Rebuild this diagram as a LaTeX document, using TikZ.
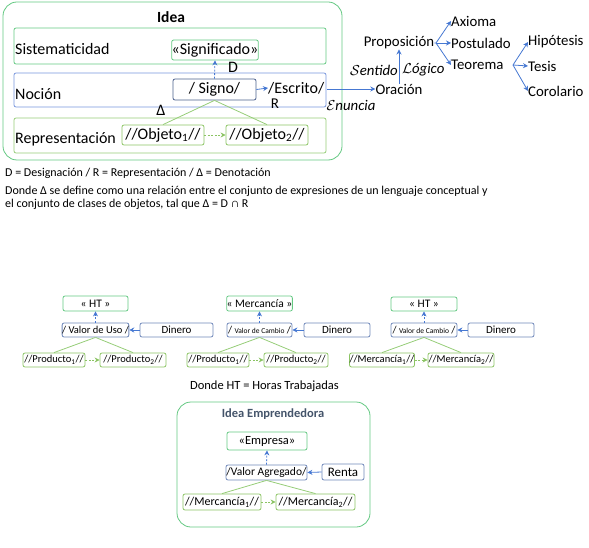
\documentclass[tikz,border=0pt]{standalone}
\usepackage{fontspec}
\setmainfont{Carlito}
\usetikzlibrary{arrows.meta}
\definecolor{gA}{RGB}{100,200,130}
\definecolor{gB}{RGB}{140,196,100}
\definecolor{gL}{RGB}{150,205,120}
\definecolor{bA}{RGB}{120,150,220}
\definecolor{bD}{RGB}{75,95,140}
\definecolor{bV}{RGB}{110,135,185}
\definecolor{arr}{RGB}{70,120,210}
\definecolor{ttl}{RGB}{68,84,106}
\newcommand{\fs}[1]{\fontsize{#1}{#1}\selectfont}
\begin{document}
\begin{tikzpicture}[x=1pt,y=-1pt,
  bx/.style={draw, rounded corners=2pt, inner sep=0pt, line width=0.8pt},
  gbox/.style={bx, draw=gA},
  obox/.style={bx, draw=gB},
  bbox/.style={bx, draw=bA},
  dbox/.style={bx, draw=bD},
  vbox/.style={bx, draw=bV},
  big/.style={rounded corners=14pt, draw=gA, line width=0.8pt, inner sep=0pt},
  lbl/.style={inner sep=0pt},
  barr/.style={draw=arr, line width=0.8pt, -{Stealth[length=5pt,width=5pt]}},
  bdarr/.style={barr, dashed, dash pattern=on 2pt off 1.5pt},
  garr/.style={draw=gB, line width=0.8pt, dashed, dash pattern=on 2pt off 1.5pt, -{Stealth[length=5pt,width=5pt]}},
  gline/.style={draw=gL, line width=0.8pt},
  fT/.style={font=\fs{16}},
  fR/.style={font=\fs{14.8}},
  fS/.style={font=\fs{12}},
  fB/.style={font=\fs{10.5}},
  fC/.style={font=\fs{12.5}}
]
\useasboundingbox (0,0) rectangle (589,548);

% ===== Top: Idea =====
\node[big, minimum width=339pt, minimum height=158pt] (idea) at (172.5,81) {};
\node[lbl, font=\bfseries\fs{15.5}] (ideat) at (171,17) {Idea};

\node[gbox, minimum width=312pt, minimum height=36pt] (sist) at (170,46) {};
\node[lbl, fT, anchor=west] (sistt) at (15,49) {Sistematicidad};
\node[gbox, fT, minimum width=84pt, minimum height=20pt] (signif) at (215,50) {«Significado»};

\node[bbox, minimum width=312pt, minimum height=34pt] (noc) at (170,90) {};
\node[lbl, fT, anchor=west] (noct) at (15,94) {Noción};
\node[dbox, fT, minimum width=83pt, minimum height=21pt] (signo) at (214.5,89.5) {/ Signo/};
\node[lbl, fT] (dl) at (233,67) {D};
\node[lbl, fT, anchor=west] (escrito) at (268,88) {/Escrito/};
\node[lbl, font=\fs{15}] (rl) at (275,104) {R};
\node[lbl, fT] (delta) at (161,110) {Δ};

\node[obox, draw=gL, minimum width=312pt, minimum height=35pt] (repr) at (170,135.5) {};
\node[lbl, fT, anchor=west] (reprt) at (15,139) {Representación};
\node[obox, fT, minimum width=82pt, minimum height=20pt] (obj1) at (163,135) {//Objeto\textsubscript{1}//};
\node[obox, fT, minimum width=82pt, minimum height=20pt] (obj2) at (267,135) {//Objeto\textsubscript{2}//};

\draw[bdarr] (signo.north) -- (signif.south);
\draw[barr] (signo.east) -- (escrito.west);
\draw[gline] (signo.south) -- (obj1.north);
\draw[gline] (signo.south) -- (obj2.north);
\draw[garr] (obj1.east) -- (obj2.west);

% ===== Top right =====
\node[lbl, fR] (orac) at (399,89) {Oración};
\node[lbl, font=\itshape\fs{14.8}] (enun) at (351,105) {$\mathcal{E}$nuncia};
\node[lbl, fR] (prop) at (399,43) {Proposición};
\node[lbl, font=\itshape\fs{14.8}, anchor=east] (sent) at (398,70) {$\mathcal{S}$entido};
\node[lbl, font=\itshape\fs{14.8}, anchor=west] (logi) at (402,70) {$\mathcal{L}$ógico};
\node[lbl, fR, anchor=west] (axi) at (451,21) {Axioma};
\node[lbl, fR, anchor=west] (post) at (451,43) {Postulado};
\node[lbl, fR, anchor=west] (teo) at (451,65) {Teorema};
\node[lbl, fR, anchor=west] (hip) at (528,42) {Hipótesis};
\node[lbl, fR, anchor=west] (tes) at (528,66) {Tesis};
\node[lbl, fR, anchor=west] (cor) at (528,91) {Corolario};
\coordinate (bp1) at (436,43);
\coordinate (bp2) at (513,65);

\draw[barr] (escrito.east) ++(3,1) -- (orac.west);
\draw[barr] (orac.north) -- (prop.south);
\draw[barr] (prop.east) -- (bp1) -- (axi.west);
\draw[barr] (bp1) -- (post.west);
\draw[barr] (bp1) -- (teo.west);
\draw[barr] (bp2) -- (hip.west);
\draw[barr] (bp2) -- (tes.west);
\draw[barr] (bp2) -- (cor.west);

% ===== Text =====
\node[lbl, fS, anchor=west] (t1) at (5,173) {D = Designación / R = Representación / Δ = Denotación};
\node[lbl, fS, anchor=west] (t2) at (5,191) {Donde Δ se define como una relación entre el conjunto de expresiones de un lenguaje conceptual y};
\node[lbl, fS, anchor=west] (t3) at (5,204) {el conjunto de clases de objetos, tal que Δ = D ∩ R};

% ===== Bottom row 1 =====
\node[gbox, font=\fs{11.5}, minimum width=65pt, minimum height=15pt] (ht1) at (95.5,303.5) {« HT »};
\node[vbox, fB, minimum width=65pt, minimum height=14pt] (vu) at (95.5,330) {/ Valor de Uso /};
\node[vbox, font=\fs{11}, minimum width=73pt, minimum height=14pt] (din1) at (176.5,330) {Dinero};
\node[obox, fB, minimum width=62pt, minimum height=14pt] (p1) at (54,360) {//Producto\textsubscript{1}//};
\node[obox, fB, minimum width=66pt, minimum height=14pt] (p2) at (133,360) {//Producto\textsubscript{2}//};
\draw[bdarr] (vu.north) -- (ht1.south);
\draw[barr] (din1.west) -- (vu.east);
\draw[gline] (vu.south) -- (p1.north);
\draw[gline] (vu.south) -- (p2.north);
\draw[garr] (p1.east) -- (p2.west);

% ===== Bottom row 2 =====
\node[gbox, font=\fs{11.5}, minimum width=65pt, minimum height=15pt] (merc) at (259.5,303.5) {« Mercancía »};
\node[vbox, fB, minimum width=65pt, minimum height=14pt] (vc1) at (259.5,330) {/ {\fs{7.5}Valor de Cambio} /};
\node[vbox, font=\fs{11}, minimum width=66pt, minimum height=14pt] (din2) at (337,330) {Dinero};
\node[obox, fB, minimum width=62pt, minimum height=14pt] (p3) at (218,360) {//Producto\textsubscript{1}//};
\node[obox, fB, minimum width=64pt, minimum height=14pt] (p4) at (296,360) {//Producto\textsubscript{2}//};
\draw[bdarr] (vc1.north) -- (merc.south);
\draw[barr] (din2.west) -- (vc1.east);
\draw[gline] (vc1.south) -- (p3.north);
\draw[gline] (vc1.south) -- (p4.north);
\draw[garr] (p3.east) -- (p4.west);

% ===== Bottom row 3 =====
\node[gbox, font=\fs{11.5}, minimum width=66pt, minimum height=14pt] (ht2) at (424,304) {« HT »};
\node[vbox, fB, minimum width=66pt, minimum height=14pt] (vc2) at (424,330) {/ {\fs{7.5}Valor de Cambio} /};
\node[vbox, font=\fs{11}, minimum width=66pt, minimum height=14pt] (din3) at (501,330) {Dinero};
\node[obox, fB, minimum width=62pt, minimum height=14pt] (m1) at (382,360) {//Mercancía\textsubscript{1}//};
\node[obox, fB, minimum width=66pt, minimum height=14pt] (m2) at (461,360) {//Mercancía\textsubscript{2}//};
\draw[bdarr] (vc2.north) -- (ht2.south);
\draw[barr] (din3.west) -- (vc2.east);
\draw[gline] (vc2.south) -- (m1.north);
\draw[gline] (vc2.south) -- (m2.north);
\draw[garr] (m1.east) -- (m2.west);

\node[lbl, font=\fs{12.5}] (htdef) at (264.5,386) {Donde HT = Horas Trabajadas};

% ===== Bottom center: Idea Emprendedora =====
\node[big, minimum width=193pt, minimum height=125pt] (ie) at (273.5,464.5) {};
\node[lbl, font=\bfseries\fs{12.5}, text=ttl] (iet) at (273,414) {Idea Emprendedora};
\node[gbox, fC, minimum width=80pt, minimum height=18pt] (emp) at (267,441) {«Empresa»};
\node[vbox, font=\fs{11.5}, minimum width=81pt, minimum height=15pt] (va) at (266.5,472.5) {/Valor Agregado/};
\node[vbox, font=\fs{13}, minimum width=42pt, minimum height=16pt] (renta) at (343,472) {Renta};
\node[obox, font=\fs{12}, minimum width=78pt, minimum height=16pt] (mc1) at (222,502) {//Mercancía\textsubscript{1}//};
\node[obox, font=\fs{12}, minimum width=79pt, minimum height=16pt] (mc2) at (315.5,502) {//Mercancía\textsubscript{2}//};
\draw[bdarr] (va.north) -- (emp.south);
\draw[barr] (renta.west) -- (va.east);
\draw[gline] (va.south) -- (mc1.north);
\draw[gline] (va.south) -- (mc2.north);
\draw[garr] (mc1.east) -- (mc2.west);
\end{tikzpicture}
\end{document}
